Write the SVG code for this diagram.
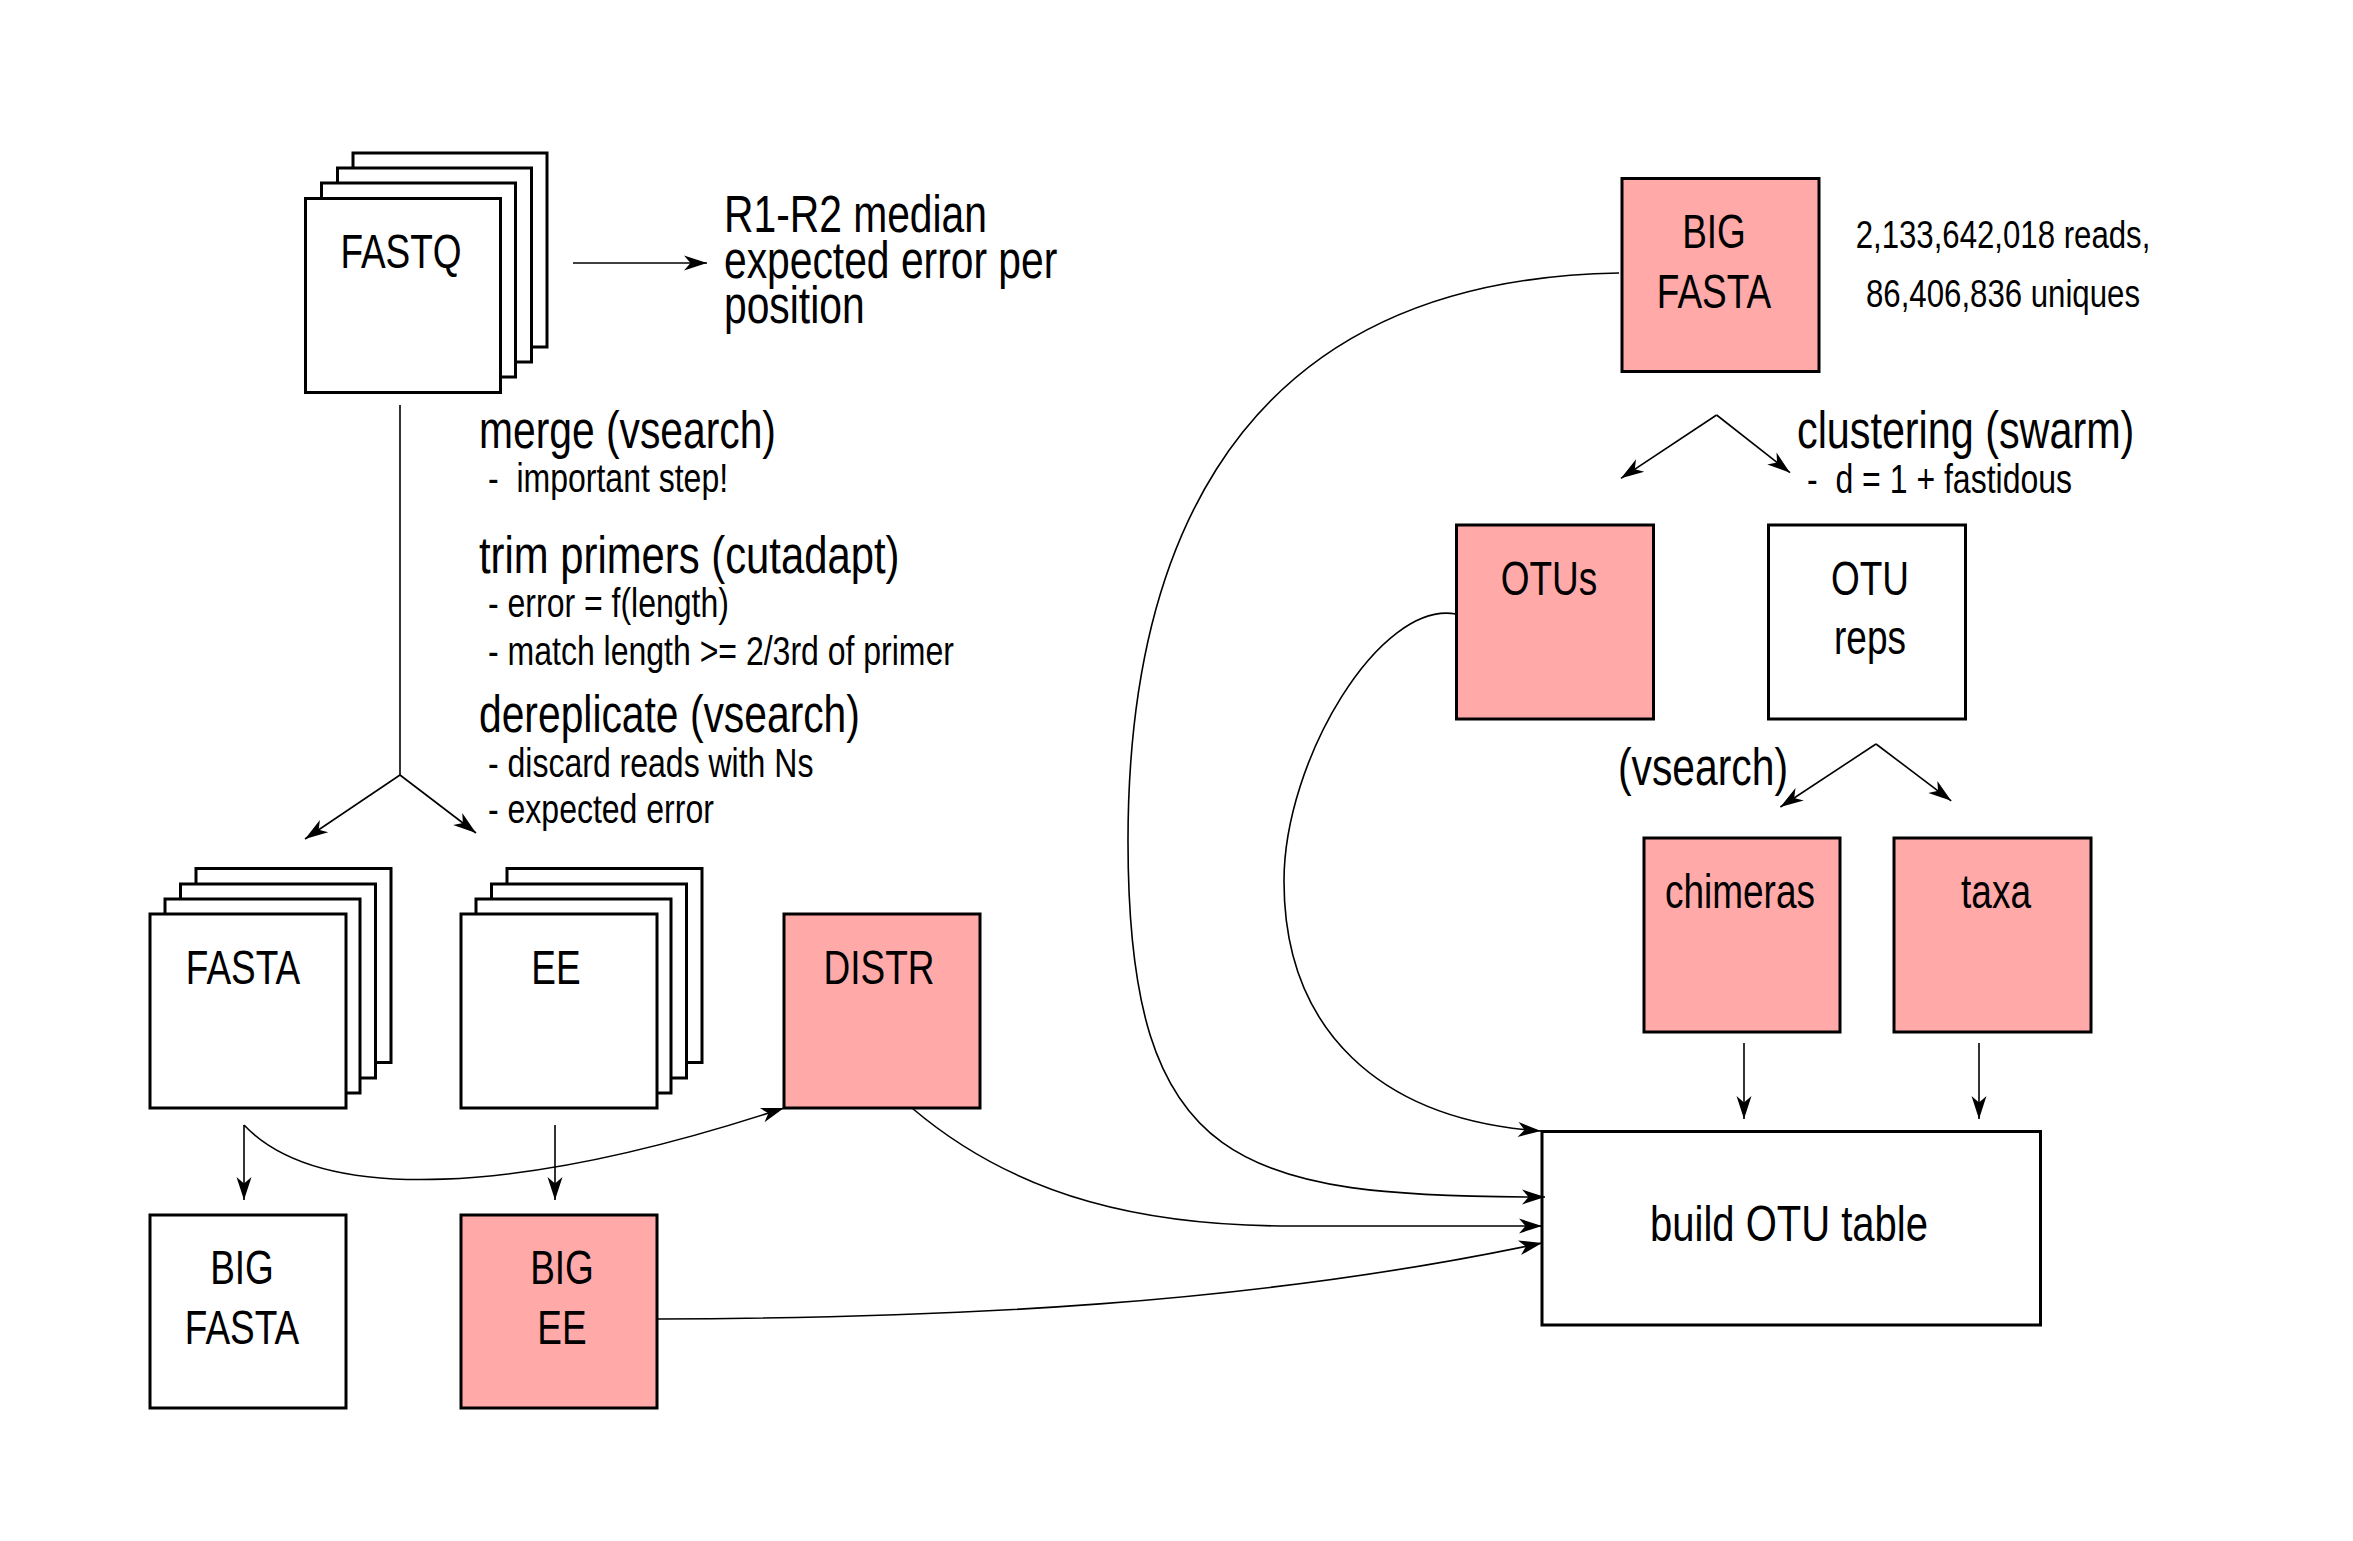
<svg xmlns="http://www.w3.org/2000/svg" width="2353" height="1541" viewBox="0 0 2353 1541">
<style>
text{font-family:"Liberation Sans",Arial,sans-serif;fill:#000}
.box{stroke:#000;stroke-width:3;fill:#fff}
.pink{fill:#ffa9a9}
.lbl{font-size:48px;text-anchor:middle}
.h{font-size:51px}
.s{font-size:40px}
.c{fill:none;stroke:#000;stroke-width:1.6}
.a{marker-end:url(#ah)}
</style>
<defs>
<marker id="ah" markerUnits="userSpaceOnUse" viewBox="-26 -10 28 20" refX="0" refY="0" markerWidth="28" markerHeight="20" orient="auto">
<path d="M0,0 L-23,-7.5 L-16.5,0 L-23,7.5 Z" fill="#000"/>
</marker>
</defs>
<rect width="2353" height="1541" fill="#fff"/>

<g id="fastq">
<rect class="box" x="353" y="153" width="194" height="194"/>
<rect class="box" x="337.5" y="168" width="194" height="194"/>
<rect class="box" x="321.5" y="183" width="194" height="194"/>
<rect class="box" x="305.5" y="198.5" width="195" height="194"/>
<text class="lbl" transform="matrix(.77 0 0 1 401 0)" y="268">FASTQ</text>
</g>

<g id="r1r2">
<text class="h" transform="matrix(.8 0 0 1 724 0)"><tspan x="0" y="232">R1-R2 median</tspan><tspan x="0" y="278">expected error per</tspan><tspan x="0" y="323">position</tspan></text>
</g>

<g id="steps">
<text class="h" transform="matrix(.8 0 0 1 479 0)" y="448">merge (vsearch)</text>
<text class="s" transform="matrix(.8 0 0 1 488 0)" y="492" xml:space="preserve">-  important step!</text>
<text class="h" transform="matrix(.82 0 0 1 479 0)" y="573">trim primers (cutadapt)</text>
<text class="s" transform="matrix(.8 0 0 1 488 0)" y="617">- error = f(length)</text>
<text class="s" transform="matrix(.8 0 0 1 488 0)" y="665">- match length &gt;= 2/3rd of primer</text>
<text class="h" transform="matrix(.8 0 0 1 479 0)" y="732">dereplicate (vsearch)</text>
<text class="s" transform="matrix(.8 0 0 1 488 0)" y="777">- discard reads with Ns</text>
<text class="s" transform="matrix(.8 0 0 1 488 0)" y="823">- expected error</text>
</g>

<g id="fasta">
<rect class="box" x="196" y="868.5" width="195" height="194"/>
<rect class="box" x="180.5" y="884" width="195" height="194"/>
<rect class="box" x="165" y="899" width="195" height="194"/>
<rect class="box" x="150" y="914" width="196" height="194"/>
<text class="lbl" transform="matrix(.77 0 0 1 243 0)" y="984">FASTA</text>
</g>

<g id="ee">
<rect class="box" x="507" y="868.5" width="195" height="194"/>
<rect class="box" x="491.5" y="884" width="195" height="194"/>
<rect class="box" x="476" y="899" width="195" height="194"/>
<rect class="box" x="461" y="914" width="196" height="194"/>
<text class="lbl" transform="matrix(.77 0 0 1 556 0)" y="984">EE</text>
</g>

<g id="distr">
<rect class="box pink" x="784" y="914" width="196" height="194"/>
<text class="lbl" transform="matrix(.77 0 0 1 879 0)" y="984">DISTR</text>
</g>

<g id="bigfasta-left">
<rect class="box" x="150" y="1215" width="196" height="193"/>
<text class="lbl" transform="matrix(.77 0 0 1 242 0)"><tspan x="0" y="1284">BIG</tspan><tspan x="0" y="1344">FASTA</tspan></text>
</g>

<g id="bigee">
<rect class="box pink" x="461" y="1215" width="196" height="193"/>
<text class="lbl" transform="matrix(.77 0 0 1 562 0)"><tspan x="0" y="1284">BIG</tspan><tspan x="0" y="1344">EE</tspan></text>
</g>

<g id="bigfasta-top">
<rect class="box pink" x="1622" y="178.5" width="197" height="193"/>
<text class="lbl" transform="matrix(.77 0 0 1 1714 0)"><tspan x="0" y="248">BIG</tspan><tspan x="0" y="308">FASTA</tspan></text>
</g>

<g id="stats">
<text class="s" transform="matrix(.8 0 0 1 2003 0)" text-anchor="middle" style="font-size:39px"><tspan x="0" y="248">2,133,642,018 reads,</tspan><tspan x="0" y="307">86,406,836 uniques</tspan></text>
</g>

<g id="clustering">
<text class="h" transform="matrix(.81 0 0 1 1797 0)" y="448">clustering (swarm)</text>
<text class="s" transform="matrix(.8 0 0 1 1807 0)" y="493" xml:space="preserve">-  d = 1 + fastidous</text>
</g>

<g id="otus">
<rect class="box pink" x="1456.5" y="525" width="197" height="194"/>
<text class="lbl" transform="matrix(.77 0 0 1 1549 0)" y="595">OTUs</text>
</g>

<g id="otureps">
<rect class="box" x="1768.5" y="525" width="197" height="194"/>
<text class="lbl" transform="matrix(.77 0 0 1 1870 0)"><tspan x="0" y="595">OTU</tspan><tspan x="0" y="654">reps</tspan></text>
</g>

<g id="vsearch">
<text class="h" transform="matrix(.8 0 0 1 1618 0)" y="785">(vsearch)</text>
</g>

<g id="chimeras">
<rect class="box pink" x="1644" y="838" width="196" height="194"/>
<text class="lbl" transform="matrix(.77 0 0 1 1740 0)" y="908">chimeras</text>
</g>

<g id="taxa">
<rect class="box pink" x="1894" y="838" width="197" height="194"/>
<text class="lbl" transform="matrix(.77 0 0 1 1996 0)" y="908">taxa</text>
</g>

<g id="otutable">
<rect class="box" x="1542" y="1131.5" width="498.5" height="193.5"/>
<text transform="matrix(.8 0 0 1 1789 0)" y="1241" font-size="50" text-anchor="middle">build OTU table</text>
</g>

<g id="connectors">
<path class="c a" d="M573,263 L707,263"/>
<path class="c" d="M400,405 L400,775"/>
<path class="c a" d="M400,775 L305,839"/>
<path class="c a" d="M400,775 L476,833"/>
<path class="c a" d="M244,1125 L244,1200"/>
<path class="c a" d="M555,1125 L555,1200"/>
<path class="c a" d="M244,1125 C320,1205 520,1195 784,1108"/>
<path class="c a" d="M912,1108 C1020,1200 1150,1226 1290,1226 L1542,1226"/>
<path class="c a" d="M657,1319 C950,1318 1250,1305 1542,1243"/>
<path class="c a" d="M1456,614 C1380,600 1284,760 1284,881 C1284,1030 1380,1120 1541,1131"/>
<path class="c a" d="M1619,273 C1200,280 1128,600 1128,841 C1128,1170 1240,1197 1545,1197"/>
<path class="c a" d="M1716.6,415 L1621,478.3"/>
<path class="c a" d="M1716.6,415 L1790,472.7"/>
<path class="c a" d="M1876,744 L1780.4,807"/>
<path class="c a" d="M1876,744 L1951.2,800.8"/>
<path class="c a" d="M1744,1043 L1744,1119"/>
<path class="c a" d="M1979,1043 L1979,1119"/>
</g>
</svg>
